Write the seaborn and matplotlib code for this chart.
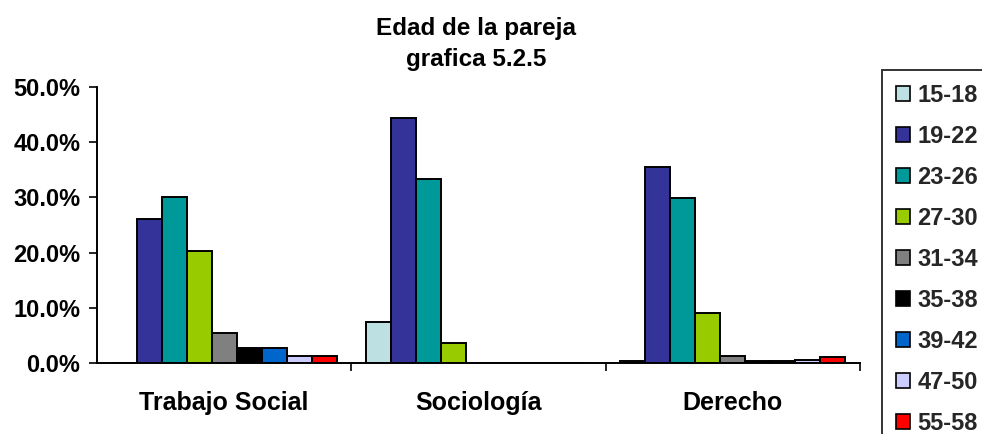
import matplotlib
matplotlib.use("Agg")
import matplotlib.pyplot as plt
import seaborn as sns
import pandas as pd
from matplotlib.ticker import FuncFormatter, FixedLocator

# Carreras y rangos de edad de la pareja
carreras = ["Trabajo Social", "Sociología", "Derecho"]
edades = ["15-18", "19-22", "23-26", "27-30", "31-34", "35-38", "39-42", "47-50", "55-58"]

# Porcentaje por rango de edad, una lista por carrera
trabajo_social = [0.0, 26.0, 30.0, 20.3, 5.5, 2.8, 2.7, 1.3, 1.3]
sociologia = [7.4, 44.4, 33.3, 3.7, 0.0, 0.0, 0.0, 0.0, 0.0]
derecho = [0.3, 35.5, 29.9, 9.0, 1.3, 0.3, 0.3, 0.6, 1.0]

colores = ["#BDE1E3", "#333399", "#009999", "#99CC00", "#808080",
           "#000000", "#0066CC", "#CCCCFF", "#FF0000"]

registros = []
for carrera, valores in zip(carreras, [trabajo_social, sociologia, derecho]):
    for edad, v in zip(edades, valores):
        registros.append({"carrera": carrera, "edad": edad, "pct": v})
df = pd.DataFrame(registros)

sns.set_theme(style="white")
plt.rcParams["font.family"] = ["Liberation Sans", "DejaVu Sans"]
plt.rcParams["font.weight"] = "bold"

fig = plt.figure(figsize=(9.82, 4.34), dpi=100)
ax = fig.add_axes([97 / 982, 1 - 363 / 434, (860 - 97) / 982, (363 - 87) / 434])

sns.barplot(data=df, x="carrera", y="pct", hue="edad", order=carreras,
            hue_order=edades, palette=colores, width=0.885,
            edgecolor="black", linewidth=1.4, saturation=1, ax=ax,
            errorbar=None)

ax.set_ylim(0, 50)
ax.set_xlim(-0.5, 2.5)
ax.yaxis.set_major_locator(FixedLocator([0, 10, 20, 30, 40, 50]))
ax.yaxis.set_major_formatter(FuncFormatter(lambda v, p: f"{v:.1f}%"))
ax.set_xlabel("")
ax.set_ylabel("")

for s in ["top", "right"]:
    ax.spines[s].set_visible(False)
for s in ["left", "bottom"]:
    ax.spines[s].set_color("black")
    ax.spines[s].set_linewidth(1.4)

ax.tick_params(axis="y", which="major", direction="out", length=6, width=1.2,
               color="black", left=True, labelsize=17, pad=6)
ax.tick_params(axis="x", which="major", length=0, labelsize=18, pad=20)
ax.xaxis.set_minor_locator(FixedLocator([0.5, 1.5, 2.5]))
ax.tick_params(axis="x", which="minor", direction="out", length=6, width=1.2,
               color="black", bottom=True)
for lab in ax.get_xticklabels() + ax.get_yticklabels():
    lab.set_fontweight("bold")
    lab.set_color("black")

fig.text(476 / 982, 1 - 35 / 434, "Edad de la pareja", ha="center", va="baseline",
         fontsize=17.5, fontweight="bold", color="black")
fig.text(476 / 982, 1 - 66 / 434, "grafica 5.2.5", ha="center", va="baseline",
         fontsize=17.5, fontweight="bold", color="black")

handles, labels = ax.get_legend_handles_labels()
ax.get_legend().remove()
leg = fig.legend(handles, labels, loc="upper left",
                 bbox_to_anchor=(882 / 982, 1 - 70 / 434),
                 frameon=True, fancybox=False, prop={"size": 17, "weight": "bold"},
                 handlelength=0.6, handleheight=0.6, handletextpad=0.3,
                 labelspacing=0.76, borderpad=0.6, borderaxespad=0)
leg.get_frame().set_edgecolor("black")
leg.get_frame().set_linewidth(1.4)
for h in leg.legend_handles:
    h.set_edgecolor("black")
    h.set_linewidth(1.2)

fig.savefig("out.png", dpi=100)
